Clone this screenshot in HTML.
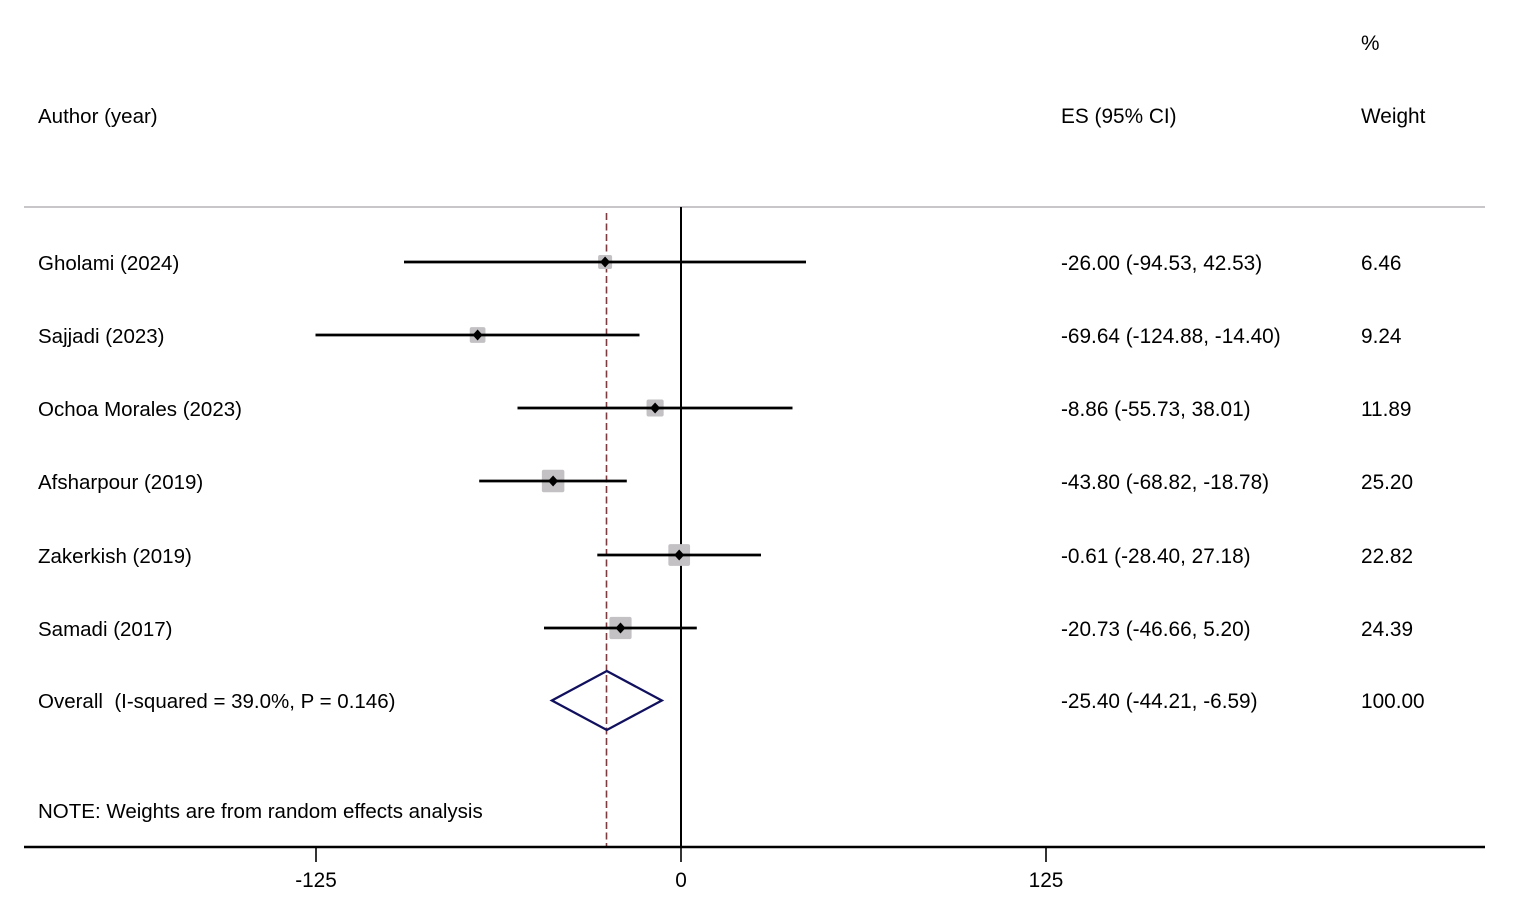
<!DOCTYPE html>
<html>
<head>
<meta charset="utf-8">
<style>
html,body{margin:0;padding:0;background:#fff;}
svg{display:block;}
text{font-family:"Liberation Sans",Arial,sans-serif;font-size:20.8px;fill:#000;}
text.l{font-size:20.5px;}
</style>
</head>
<body>
<svg width="1518" height="910" viewBox="0 0 1518 910" xmlns="http://www.w3.org/2000/svg">
<rect width="1518" height="910" fill="#fff"/>
<!-- headers -->
<text x="1361" y="50">%</text>
<text class="l" x="38" y="123">Author (year)</text>
<text x="1061" y="123">ES (95% CI)</text>
<text x="1361" y="123">Weight</text>
<line x1="24" y1="207" x2="1485" y2="207" stroke="#c8c6c8" stroke-width="2"/>

<!-- zero line -->
<line x1="681" y1="207" x2="681" y2="847" stroke="#000" stroke-width="2"/>
<!-- overall dashed line -->
<line x1="606.5" y1="213" x2="606.5" y2="847" stroke="#7b3b3f" stroke-width="1.6" stroke-dasharray="7,3.5"/>

<!-- boxes -->
<g fill="#c3c1c3">
<rect x="598.1" y="255" width="14" height="14" rx="2"/>
<rect x="469.75" y="327.15" width="15.7" height="15.7" rx="2"/>
<rect x="646.55" y="399.45" width="17.1" height="17.1" rx="2"/>
<rect x="541.85" y="469.75" width="22.5" height="22.5" rx="2"/>
<rect x="668.35" y="544.15" width="21.7" height="21.7" rx="2"/>
<rect x="609.4" y="616.9" width="22.2" height="22.2" rx="2"/>
</g>

<!-- CI lines -->
<g stroke="#000" stroke-width="2.7">
<line x1="404" y1="262" x2="806" y2="262"/>
<line x1="315.5" y1="335" x2="639.5" y2="335"/>
<line x1="517.5" y1="408" x2="792.5" y2="408"/>
<line x1="479.2" y1="481" x2="626.8" y2="481"/>
<line x1="597.3" y1="555" x2="761" y2="555"/>
<line x1="544" y1="628" x2="696.8" y2="628"/>
</g>

<!-- point estimates -->
<g fill="#000">
<polygon points="605.1,256.5 610.1,262 605.1,267.5 600.1,262"/>
<polygon points="477.6,329.5 482.6,335 477.6,340.5 472.6,335"/>
<polygon points="655.1,402.5 660.1,408 655.1,413.5 650.1,408"/>
<polygon points="553.1,475.5 558.1,481 553.1,486.5 548.1,481"/>
<polygon points="679.2,549.5 684.2,555 679.2,560.5 674.2,555"/>
<polygon points="620.5,622.5 625.5,628 620.5,633.5 615.5,628"/>
</g>

<!-- overall diamond -->
<polygon points="606.8,671 661.8,700.5 606.8,730 551.9,700.5" fill="none" stroke="#10105e" stroke-width="2.3"/>

<!-- row labels -->
<text class="l" x="38" y="270">Gholami (2024)</text>
<text class="l" x="38" y="343">Sajjadi (2023)</text>
<text class="l" x="38" y="416">Ochoa Morales (2023)</text>
<text class="l" x="38" y="489">Afsharpour (2019)</text>
<text class="l" x="38" y="563">Zakerkish (2019)</text>
<text class="l" x="38" y="636">Samadi (2017)</text>
<text class="l" x="38" y="708">Overall &#160;(I-squared = 39.0%, P = 0.146)</text>

<text x="1061" y="270">-26.00 (-94.53, 42.53)</text>
<text x="1061" y="343">-69.64 (-124.88, -14.40)</text>
<text x="1061" y="416">-8.86 (-55.73, 38.01)</text>
<text x="1061" y="489">-43.80 (-68.82, -18.78)</text>
<text x="1061" y="563">-0.61 (-28.40, 27.18)</text>
<text x="1061" y="636">-20.73 (-46.66, 5.20)</text>
<text x="1061" y="708">-25.40 (-44.21, -6.59)</text>

<text x="1361" y="270">6.46</text>
<text x="1361" y="343">9.24</text>
<text x="1361" y="416">11.89</text>
<text x="1361" y="489">25.20</text>
<text x="1361" y="563">22.82</text>
<text x="1361" y="636">24.39</text>
<text x="1361" y="708">100.00</text>

<text class="l" x="38" y="818">NOTE: Weights are from random effects analysis</text>

<!-- x axis -->
<line x1="24" y1="847" x2="1485" y2="847" stroke="#000" stroke-width="2.6"/>
<g stroke="#000" stroke-width="1.6">
<line x1="316" y1="847" x2="316" y2="862"/>
<line x1="681" y1="847" x2="681" y2="862"/>
<line x1="1046" y1="847" x2="1046" y2="862"/>
</g>
<text x="316" y="887" text-anchor="middle">-125</text>
<text x="681" y="887" text-anchor="middle">0</text>
<text x="1046" y="887" text-anchor="middle">125</text>
</svg>
</body>
</html>
